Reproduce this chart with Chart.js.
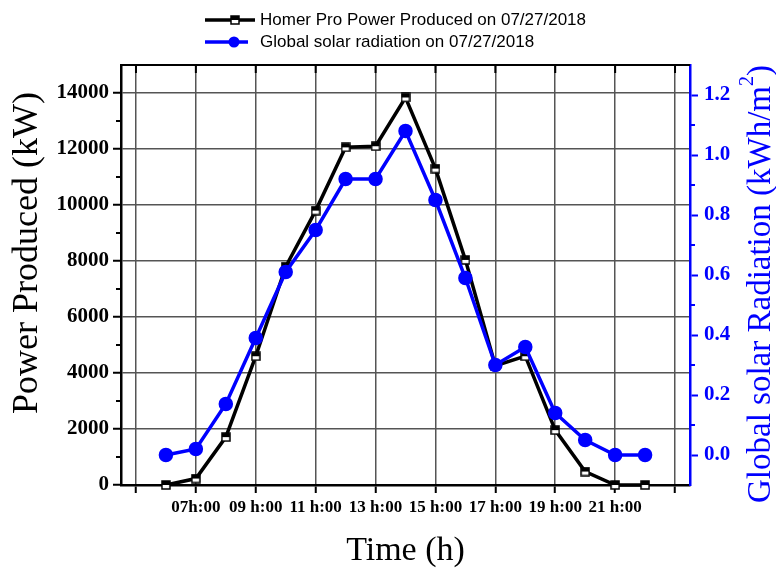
<!DOCTYPE html>
<html>
<head>
<meta charset="utf-8">
<script src="https://cdn.jsdelivr.net/npm/chart.js@4.4.0/dist/chart.umd.min.js"></script>
<style>
  html, body { margin: 0; padding: 0; background: #fff; }
  #wrap { width: 776px; height: 571px; position: relative; }
</style>
</head>
<body>
<div id="wrap"><canvas id="powerChart"></canvas></div>
<script>
// hourly values for 07/27/2018
const hours = [6, 7, 8, 9, 10, 11, 12, 13, 14, 15, 16, 17, 18, 19, 20, 21, 22];
const powerProduced = [0, 230, 1710, 4600, 7800, 9800, 12060, 12100, 13840, 11300, 8040, 4260, 4600, 1960, 480, 0, 0];
const solarRadiation = [0.0, 0.02, 0.17, 0.39, 0.61, 0.75, 0.92, 0.92, 1.08, 0.85, 0.59, 0.30, 0.36, 0.14, 0.05, 0.0, 0.0];

const xTickValues = [5, 7, 9, 11, 13, 15, 17, 19, 21, 23];
const xTickLabels = ['', '07h:00', '09 h:00', '11 h:00', '13 h:00', '15 h:00', '17 h:00', '19 h:00', '21 h:00', ''];
const powerTicks = [0, 2000, 4000, 6000, 8000, 10000, 12000, 14000];
const powerMinorTicks = [1000, 3000, 5000, 7000, 9000, 11000, 13000];
const radiationTicks = [0, 0.2, 0.4, 0.6, 0.8, 1.0, 1.2];
const radiationMinorTicks = [0.1, 0.3, 0.5, 0.7, 0.9, 1.1];

const BLUE = '#0000ff';
const SERIF = '"Liberation Serif", "Times New Roman", serif';
const SANS = '"Liberation Sans", Arial, sans-serif';

// half filled square marker (top black, bottom white)
function halfSquare() {
    const c = document.createElement('canvas');
    c.width = 10; c.height = 10;
    const g = c.getContext('2d');
    g.fillStyle = '#fff';
    g.fillRect(1, 1, 8, 8);
    g.fillStyle = '#000';
    g.fillRect(1, 1, 8, 4);
    g.strokeStyle = '#000';
    g.lineWidth = 1.5;
    g.strokeRect(1, 1, 8, 8);
    return c;
}
const squareMarker = halfSquare();

const extras = {
    id: 'extras',
    afterDraw(chart) {
        const {ctx, chartArea: a, scales} = chart;
        ctx.save();

        // top frame line with inward ticks
        ctx.strokeStyle = '#000';
        ctx.lineWidth = 2;
        ctx.beginPath();
        ctx.moveTo(a.left - 1, a.top);
        ctx.lineTo(a.right, a.top);
        xTickValues.forEach(v => {
            const x = scales.x.getPixelForValue(v);
            ctx.moveTo(x, a.top);
            ctx.lineTo(x, a.top + 8);
        });
        // minor ticks left
        powerMinorTicks.forEach(v => {
            const y = scales.yPower.getPixelForValue(v);
            ctx.moveTo(a.left - 5, y);
            ctx.lineTo(a.left, y);
        });
        ctx.stroke();

        // minor ticks right (blue)
        ctx.strokeStyle = BLUE;
        ctx.beginPath();
        radiationMinorTicks.forEach(v => {
            const y = scales.yRad.getPixelForValue(v);
            ctx.moveTo(a.right, y);
            ctx.lineTo(a.right + 5, y);
        });
        ctx.stroke();
        ctx.restore();

        // left axis title
        ctx.save();
        ctx.translate(28, 253);
        ctx.rotate(-Math.PI / 2);
        ctx.fillStyle = '#000';
        ctx.textAlign = 'center';
        ctx.textBaseline = 'middle';
        ctx.font = '36px ' + SERIF;
        ctx.fillText('Power Produced (kW)', 0, 0);
        ctx.restore();

        // right axis title, reading bottom to top, with superscript
        ctx.save();
        ctx.translate(761, 284);
        ctx.rotate(-Math.PI / 2);
        ctx.fillStyle = BLUE;
        ctx.textBaseline = 'middle';
        ctx.textAlign = 'left';
        const mainFont = '33px ' + SERIF, supFont = '20px ' + SERIF;
        const main = 'Global solar Radiation (kWh/m', sup = '2', tail = ')';
        ctx.font = mainFont;
        const wMain = ctx.measureText(main).width, wTail = ctx.measureText(tail).width;
        ctx.font = supFont;
        const wSup = ctx.measureText(sup).width;
        let x0 = -(wMain + wSup + wTail) / 2;
        ctx.font = mainFont;
        ctx.fillText(main, x0, 0);
        ctx.font = supFont;
        ctx.fillText(sup, x0 + wMain, -13);
        ctx.font = mainFont;
        ctx.fillText(tail, x0 + wMain + wSup, 0);
        ctx.restore();

        // legend
        ctx.save();
        ctx.font = '17px ' + SANS;
        ctx.textBaseline = 'middle';
        ctx.fillStyle = '#000';
        const rows = [
            {ds: chart.data.datasets[1], y: 20, end: 255},
            {ds: chart.data.datasets[0], y: 42, end: 248}
        ];
        rows.forEach(r => {
            ctx.strokeStyle = r.ds.borderColor;
            ctx.lineWidth = 3.5;
            ctx.beginPath();
            ctx.moveTo(205, r.y);
            ctx.lineTo(r.end, r.y);
            ctx.stroke();
            if (r.ds.pointStyle === 'circle') {
                ctx.fillStyle = r.ds.pointBackgroundColor;
                ctx.beginPath();
                ctx.arc(234, r.y, 5.5, 0, Math.PI * 2);
                ctx.fill();
            } else {
                ctx.drawImage(squareMarker, 230, r.y - 5);
            }
            ctx.fillStyle = '#000';
            ctx.fillText(r.ds.label, 260, r.y);
        });
        ctx.restore();
    }
};

const ctx = document.getElementById('powerChart').getContext('2d');
new Chart(ctx, {
    type: 'line',
    data: {
        datasets: [
            {
                label: 'Global solar radiation on 07/27/2018',
                data: hours.map((h, i) => ({x: h, y: solarRadiation[i]})),
                yAxisID: 'yRad',
                borderColor: BLUE,
                backgroundColor: BLUE,
                pointBackgroundColor: BLUE,
                pointBorderColor: BLUE,
                pointStyle: 'circle',
                pointRadius: 5.5,
                borderWidth: 3.5,
                tension: 0,
                clip: false,
                order: 1
            },
            {
                label: 'Homer Pro Power Produced on 07/27/2018',
                data: hours.map((h, i) => ({x: h, y: powerProduced[i]})),
                yAxisID: 'yPower',
                borderColor: '#000',
                backgroundColor: '#000',
                pointStyle: squareMarker,
                borderWidth: 3.5,
                tension: 0,
                clip: false,
                order: 2
            }
        ]
    },
    options: {
        responsive: true,
        maintainAspectRatio: false,
        animation: false,
        events: [],
        layout: { padding: { top: 65, left: 0, right: 0, bottom: 0 } },
        plugins: {
            legend: { display: false },
            tooltip: { enabled: false }
        },
        scales: {
            x: {
                type: 'linear',
                min: 4.5,
                max: 23.5,
                afterBuildTicks: s => { s.ticks = xTickValues.map(v => ({value: v})); },
                afterFit: s => { s.height = 86; },
                grid: { color: '#555', lineWidth: 1.5, tickLength: 8, tickColor: '#000', tickWidth: 2 },
                border: { color: '#000', width: 2.5 },
                ticks: {
                    autoSkip: false,
                    maxRotation: 0,
                    padding: 4,
                    color: '#000',
                    font: { family: SERIF, size: 17, weight: 'bold' },
                    callback: (v, i) => xTickLabels[i]
                },
                title: {
                    display: true,
                    text: 'Time (h)',
                    color: '#000',
                    padding: { top: 0, bottom: 0 },
                    font: { family: SERIF, size: 34 }
                }
            },
            yPower: {
                type: 'linear',
                position: 'left',
                min: 0,
                max: 15000,
                afterBuildTicks: s => { s.ticks = powerTicks.map(v => ({value: v})); },
                afterFit: s => { s.width = 121; },
                grid: { color: '#555', lineWidth: 1.5, tickLength: 8, tickColor: '#000', tickWidth: 2 },
                border: { color: '#000', width: 2.5 },
                ticks: {
                    padding: 4,
                    color: '#000',
                    font: { family: SERIF, size: 21, weight: 'bold' },
                    callback: v => String(v)
                },
                title: { display: false }
            },
            yRad: {
                type: 'linear',
                position: 'right',
                min: -0.1,
                max: 1.3,
                afterBuildTicks: s => { s.ticks = radiationTicks.map(v => ({value: v})); },
                afterFit: s => { s.width = 86; },
                grid: { drawOnChartArea: false, tickLength: 8, tickColor: BLUE, tickWidth: 2 },
                border: { color: BLUE, width: 2.5 },
                ticks: {
                    padding: 6,
                    color: BLUE,
                    font: { family: SERIF, size: 21, weight: 'bold' },
                    callback: v => v.toFixed(1)
                },
                title: { display: false }
            }
        }
    },
    plugins: [extras]
});
</script>
</body>
</html>
